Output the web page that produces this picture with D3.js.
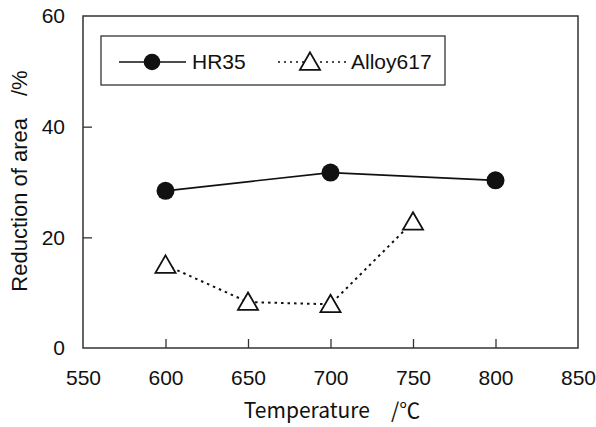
<!DOCTYPE html>
<html>
<head>
<meta charset="utf-8">
<script src="https://cdn.jsdelivr.net/npm/d3@7"></script>
<style>
  body { margin: 0; background: #fff; }
  text { font-family: "Liberation Sans", Arial, sans-serif; fill: #111; }
</style>
</head>
<body>
<div id="chart"></div>
<script>
const width = 596,
  height = 427;

// data
var hrTemps = [600, 700, 800];
var hrValues = [28.4, 31.7, 30.3];
var alloyTemps = [600, 650, 700, 750];
var alloyValues = [15.0, 8.3, 7.9, 22.8];
var xTicks = [550, 600, 650, 700, 750, 800, 850];
var yTicks = [0, 20, 40, 60];

const margin = {top: 16, right: 18, bottom: 79, left: 83};

let svg = d3.select('#chart').append('svg')
  .attr('width', width)
  .attr('height', height);

let x = d3.scaleLinear().domain([550, 850]).range([margin.left, width - margin.right]);
let y = d3.scaleLinear().domain([0, 60]).range([height - margin.bottom, margin.top]);

// frame
svg.append('rect')
  .attr('x', x(550)).attr('y', y(60))
  .attr('width', x(850) - x(550)).attr('height', y(0) - y(60))
  .attr('fill', 'none').attr('stroke', '#333').attr('stroke-width', 1.5);

// axes, ticks pointing inward
let xAxis = svg.append('g')
  .attr('transform', 'translate(0,' + y(0) + ')')
  .call(d3.axisBottom(x).tickValues(xTicks).tickSizeInner(-9).tickSizeOuter(0).tickPadding(22));
let yAxis = svg.append('g')
  .attr('transform', 'translate(' + x(550) + ',0)')
  .call(d3.axisLeft(y).tickValues(yTicks).tickSizeInner(-9).tickSizeOuter(0).tickPadding(18));

[xAxis, yAxis].forEach(a => {
  a.select('.domain').remove();
  a.selectAll('.tick line').attr('stroke', '#333').attr('stroke-width', 1.3);
  a.selectAll('.tick text').style('font-size', '21px').attr('fill', '#111');
});
// hide ticks on the frame corners
xAxis.selectAll('.tick line').filter(d => d === 550 || d === 850).remove();
yAxis.selectAll('.tick line').filter(d => d === 0 || d === 60).remove();

// axis titles
svg.append('text')
  .attr('x', 332).attr('y', 418)
  .attr('text-anchor', 'middle')
  .style('font-family', '"Noto Sans CJK JP", sans-serif')
  .style('font-size', '21px')
  .text('Temperature　/℃');

let yTitle = svg.append('text')
  .attr('transform', 'translate(27,' + 181 + ') rotate(-90)')
  .attr('text-anchor', 'middle')
  .style('font-size', '22px');
yTitle.append('tspan').text('Reduction of area');
yTitle.append('tspan').attr('dx', 22).text('/%');

let line = d3.line().x(d => x(d[0])).y(d => y(d[1]));
let hrData = hrTemps.map((t, i) => [t, hrValues[i]]);
let alloyData = alloyTemps.map((t, i) => [t, alloyValues[i]]);

svg.append('path')
  .datum(hrData)
  .attr('d', line)
  .attr('fill', 'none').attr('stroke', '#111').attr('stroke-width', 1.6);

svg.append('path')
  .datum(alloyData)
  .attr('d', line)
  .attr('fill', 'none').attr('stroke', '#111').attr('stroke-width', 2)
  .attr('stroke-dasharray', '2.5,4');

let tri = d3.symbol().type(d3.symbolTriangle).size(175);

svg.append('g').selectAll('circle')
  .data(hrData)
  .enter().append('circle')
  .attr('cx', d => x(d[0])).attr('cy', d => y(d[1]))
  .attr('r', 9).attr('fill', '#111');

svg.append('g').selectAll('path')
  .data(alloyData)
  .enter().append('path')
  .attr('d', tri)
  .attr('transform', d => 'translate(' + x(d[0]) + ',' + (y(d[1]) + 2) + ')')
  .attr('fill', '#fff').attr('stroke', '#111').attr('stroke-width', 1.8);

// legend
let legend = svg.append('g');
legend.append('rect')
  .attr('x', 101).attr('y', 36).attr('width', 344).attr('height', 49)
  .attr('fill', '#fff').attr('stroke', '#333').attr('stroke-width', 1.3);

legend.append('line')
  .attr('x1', 119).attr('x2', 186).attr('y1', 62).attr('y2', 62)
  .attr('stroke', '#111').attr('stroke-width', 1.6);
legend.append('circle').attr('cx', 152).attr('cy', 62).attr('r', 8.3).attr('fill', '#111');
legend.append('text').attr('x', 192).attr('y', 69).style('font-size', '21px').text('HR35');

legend.append('line')
  .attr('x1', 278).attr('x2', 347).attr('y1', 62).attr('y2', 62)
  .attr('stroke', '#111').attr('stroke-width', 1.6).attr('stroke-dasharray', '2,4');
legend.append('path')
  .attr('d', tri)
  .attr('transform', 'translate(310,64)')
  .attr('fill', '#fff').attr('stroke', '#111').attr('stroke-width', 1.8);
legend.append('text').attr('x', 351).attr('y', 69).style('font-size', '21px').text('Alloy617');
</script>
</body>
</html>
